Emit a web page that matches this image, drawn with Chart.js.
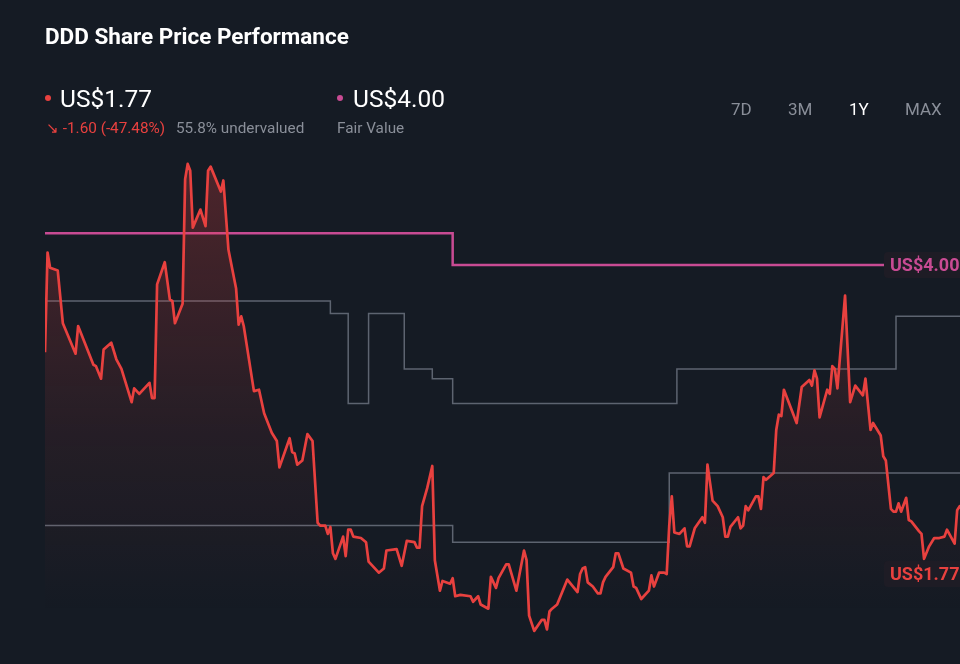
<!DOCTYPE html>
<html>
<head>
<meta charset="utf-8">
<title>DDD Share Price Performance</title>
<script src="https://cdn.jsdelivr.net/npm/chart.js@4"></script>
<style>
  html, body {
    margin: 0;
    padding: 0;
    width: 960px;
    height: 664px;
    overflow: hidden;
    background: #151b24;
    font-family: Roboto, "Noto Sans", sans-serif;
  }
  #wrap {
    position: absolute;
    left: 0;
    top: 0;
    width: 980px;
    height: 664px;
  }
  .abs { position: absolute; white-space: nowrap; }
  .title { left: 45px; top: 23px; font-size: 22.5px; font-weight: 700; color: #ffffff; }
  .big { font-size: 24.5px; color: #ffffff; top: 84px; }
  .small { font-size: 15.3px; top: 119px; color: #8a8f99; }
  .dot { width: 6px; height: 6px; border-radius: 3px; top: 95px; }
  .range { top: 99px; font-size: 17px; color: #8a8f99; }
</style>
</head>
<body>
<div id="wrap"><canvas id="chart"></canvas></div>

<div class="abs title">DDD Share Price Performance</div>

<div class="abs dot" style="left:45px; background:#e8413f;"></div>
<div class="abs big" style="left:60px;" id="priceText"></div>
<div class="abs small" style="left:46px; color:#e8413f;" id="changeText"></div>
<div class="abs small" style="left:176px;" id="valuationText"></div>

<div class="abs dot" style="left:337px; background:#c84b93;"></div>
<div class="abs big" style="left:353px;" id="fairText"></div>
<div class="abs small" style="left:337px;">Fair Value</div>

<div class="abs range" style="left:731px;">7D</div>
<div class="abs range" style="left:788px;">3M</div>
<div class="abs range" style="left:849px; color:#ffffff;">1Y</div>
<div class="abs range" style="left:905px;">MAX</div>

<script>
// Header values
const currentPrice = 1.77;
const fairValue = 4.00;
const priceChange = -1.60;
const priceChangePct = -47.48;
const undervaluedPct = 55.8;

// Share price, one year (days since start of the period)
const priceDays = [
  0, 1, 2, 5, 7, 12, 13, 19, 20, 22,
  23, 26, 28, 30, 34, 35, 37, 41, 42, 43,
  44, 47, 49, 50, 51, 54, 55, 56, 57, 58,
  61, 63, 64, 65, 69, 70, 72, 75, 76, 77,
  78, 82, 84, 86, 89, 91, 92, 96, 97, 98,
  99, 101, 103, 105, 107, 108, 110, 111, 112, 113,
  114, 117, 118, 119, 120, 121, 124, 126, 127, 131,
  133, 134, 138, 140, 142, 145, 146, 147, 148, 150,
  152, 153, 154, 155, 156, 159, 160, 161, 163, 167,
  168, 169, 170, 171, 174, 175, 177, 178, 181, 182,
  185, 188, 189, 190, 192, 195, 196, 197, 198, 199,
  201, 205, 209, 210, 211, 212, 213, 215, 217, 218,
  219, 220, 223, 224, 225, 227, 230, 231, 232, 234,
  237, 238, 239, 241, 243, 244, 245, 246, 247, 249,
  251, 252, 253, 255, 258, 259, 260, 262, 264, 266,
  267, 268, 269, 272, 273, 274, 275, 276, 279, 280,
  281, 282, 283, 286, 287, 288, 289, 290, 295, 297,
  300, 301, 302, 303, 304, 307, 308, 309, 310, 311,
  314, 316, 318, 321, 322, 324, 325, 328, 329, 330,
  332, 333, 334, 335, 336, 338, 339, 340, 343, 344,
  345, 347, 349, 351, 353, 354, 357, 358, 359, 361,
  363, 365
];
const prices = [
  3.37, 4.09, 3.98, 3.96, 3.58, 3.36, 3.56, 3.28, 3.27, 3.18,
  3.39, 3.44, 3.32, 3.25, 3.01, 3.11, 3.07, 3.15, 3.04, 3.04,
  3.86, 4.02, 3.75, 3.74, 3.58, 3.72, 4.62, 4.73, 4.68, 4.27,
  4.40, 4.28, 4.68, 4.71, 4.53, 4.61, 4.11, 3.83, 3.57, 3.63,
  3.56, 3.09, 3.10, 2.93, 2.79, 2.73, 2.54, 2.75, 2.65, 2.64,
  2.56, 2.59, 2.78, 2.73, 2.14, 2.12, 2.12, 2.06, 2.11, 1.92,
  1.88, 2.04, 1.90, 2.09, 2.09, 2.04, 2.03, 2.00, 1.86, 1.78,
  1.81, 1.94, 1.95, 1.83, 2.01, 2.00, 1.96, 1.96, 2.26, 2.39,
  2.55, 1.87, 1.76, 1.65, 1.72, 1.70, 1.74, 1.61, 1.62, 1.61,
  1.57, 1.59, 1.61, 1.55, 1.52, 1.75, 1.67, 1.74, 1.84, 1.84,
  1.65, 1.94, 1.87, 1.47, 1.36, 1.44, 1.44, 1.37, 1.50, 1.52,
  1.55, 1.73, 1.64, 1.77, 1.81, 1.82, 1.71, 1.68, 1.63, 1.63,
  1.71, 1.75, 1.82, 1.92, 1.92, 1.81, 1.78, 1.68, 1.67, 1.59,
  1.65, 1.76, 1.68, 1.78, 1.78, 1.77, 2.12, 2.33, 2.07, 2.06,
  2.10, 1.97, 1.97, 2.10, 2.18, 2.14, 2.56, 2.30, 2.26, 2.18,
  2.04, 2.04, 2.11, 2.18, 2.10, 2.12, 2.26, 2.23, 2.33, 2.33,
  2.24, 2.47, 2.45, 2.50, 2.81, 2.92, 2.91, 3.10, 2.86, 3.12,
  3.17, 3.13, 3.24, 3.18, 2.90, 3.10, 3.07, 3.27, 3.25, 3.11,
  3.78, 3.01, 3.13, 3.06, 3.18, 2.81, 2.86, 2.77, 2.62, 2.59,
  2.24, 2.22, 2.22, 2.28, 2.22, 2.32, 2.16, 2.15, 2.08, 2.06,
  1.88, 1.97, 2.03, 2.03, 2.04, 2.09, 1.99, 2.23, 2.26, 2.20,
  1.86, 1.77
];

// Fair value estimate (step changes)
const fairValueDays = [0, 160, 365];
const fairValues = [4.23, 4.00, 4.00];

// Analyst target range, upper and lower (step changes)
const upperDays = [0, 112, 119, 127, 141, 152, 160, 248, 334, 365];
const upperValues = [3.74, 3.65, 3.00, 3.65, 3.25, 3.18, 3.00, 3.25, 3.63, 3.63];
const lowerDays = [0, 160, 245, 365];
const lowerValues = [2.12, 2.00, 2.50, 2.50];

const COLORS = {
  price: '#e8413f',
  fair: '#c84b93',
  target: '#5d6470',
  labelBg: '#1e1c25'
};

function toPoints(xs, ys) {
  return xs.map((x, i) => ({ x: x, y: ys[i] }));
}

document.getElementById('priceText').textContent = 'US$' + currentPrice.toFixed(2);
document.getElementById('fairText').textContent = 'US$' + fairValue.toFixed(2);
document.getElementById('changeText').textContent =
  '\u2198 ' + priceChange.toFixed(2) + ' (' + priceChangePct.toFixed(2) + '%)';
document.getElementById('valuationText').textContent = undervaluedPct.toFixed(1) + '% undervalued';

// Value tags at the right edge of the plot
const endLabels = {
  id: 'endLabels',
  afterDatasetsDraw(chart) {
    const ctx = chart.ctx;
    const y = chart.scales.y;
    const tags = [
      { value: fairValue, color: COLORS.fair },
      { value: currentPrice, color: COLORS.price }
    ];
    ctx.save();
    ctx.font = '700 18px Roboto, sans-serif';
    ctx.textBaseline = 'middle';
    tags.forEach((t) => {
      const py = y.getPixelForValue(t.value);
      const left = 884;
      ctx.fillStyle = COLORS.labelBg;
      ctx.beginPath();
      ctx.roundRect(left, py - 13, 96, 26, 4);
      ctx.fill();
      ctx.fillStyle = t.color;
      ctx.fillText('US$' + t.value.toFixed(2), left + 6, py + 1);
    });
    ctx.restore();
  }
};

const ctx = document.getElementById('chart').getContext('2d');

new Chart(ctx, {
  type: 'line',
  data: {
    datasets: [
      {
        label: 'Fair Value',
        data: toPoints(fairValueDays, fairValues),
        borderColor: COLORS.fair,
        borderWidth: 2.5,
        stepped: true,
        pointRadius: 0,
        fill: false,
        order: 1
      },
      {
        label: 'Target high',
        data: toPoints(upperDays, upperValues),
        borderColor: COLORS.target,
        borderWidth: 1.5,
        stepped: true,
        pointRadius: 0,
        fill: false,
        order: 2
      },
      {
        label: 'Target low',
        data: toPoints(lowerDays, lowerValues),
        borderColor: COLORS.target,
        borderWidth: 1.5,
        stepped: true,
        pointRadius: 0,
        fill: false,
        order: 2
      },
      {
        label: 'Share Price',
        data: toPoints(priceDays, prices),
        borderColor: COLORS.price,
        borderWidth: 2.7,
        borderJoinStyle: 'round',
        pointRadius: 0,
        tension: 0,
        fill: 'start',
        order: 0,
        backgroundColor: (c) => {
          const area = c.chart.chartArea;
          if (!area) return 'rgba(232,65,63,0.1)';
          const g = c.chart.ctx.createLinearGradient(0, area.top, 0, area.bottom);
          g.addColorStop(0, 'rgba(232,65,63,0.28)');
          g.addColorStop(0.55, 'rgba(232,65,63,0.08)');
          g.addColorStop(0.9, 'rgba(232,65,63,0)');
          return g;
        }
      }
    ]
  },
  options: {
    responsive: true,
    maintainAspectRatio: false,
    animation: false,
    layout: {
      padding: { left: 45, top: 150, right: 5, bottom: 0 }
    },
    scales: {
      x: { type: 'linear', min: 0, max: 365, display: false },
      y: { type: 'linear', min: 1.121, max: 4.83, display: false }
    },
    plugins: {
      legend: { display: false },
      tooltip: { enabled: false }
    }
  },
  plugins: [endLabels]
});
</script>
</body>
</html>
